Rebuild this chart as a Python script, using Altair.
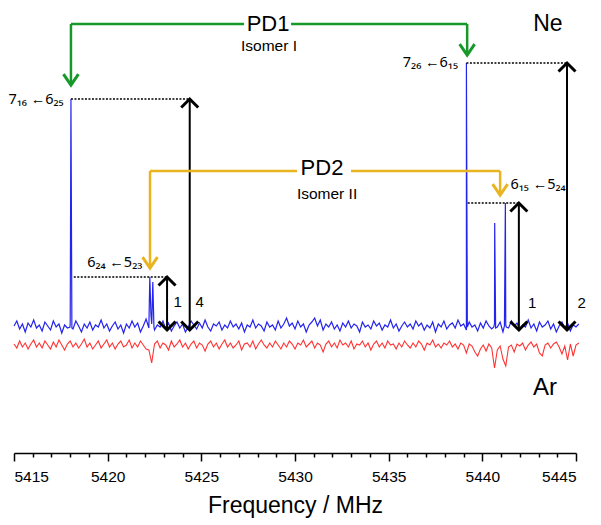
import altair as alt
import pandas as pd

# ---------------- data ----------------
freq_start = 5415.0
freq_step = 0.15

ne_noise = [
    0.4, 0.9, 0.1, 0.6, -0.2, 0.7, 0.3, 1.0, 0.2, 0.5,
    -0.1, 0.8, 0.4, 0.0, 0.9, 0.3, 0.6, -0.3, 0.5, 0.2,
    0.7, 0.1, 0.9, 0.4, -0.2, 0.6, 0.2, 0.8, 0.0, 0.5,
    0.3, 1.0, 0.2, 0.6, -0.1, 0.4, 0.8, 0.1, 0.5, -0.3,
    0.6, 0.2, 0.9, 0.3, 0.7, -0.2, 0.4, 1.1, 0.2, 0.6,
    0.0, 0.5, 0.3, 0.9, 0.1, 0.7, -0.1, 0.4, 0.8, 0.2,
    0.6, -0.2, 0.3, 0.9, 0.5, 0.1, 0.7, 0.2, 1.0, 0.3,
    -0.1, 0.6, 0.4, 0.8, 0.0, 0.5, 0.2, 0.9, 0.3, 0.6,
    0.1, 0.7, -0.2, 0.5, 0.3, 1.0, 0.2, 0.6, 0.4, -0.1,
    0.8, 0.3, 0.5, 0.0, 0.9, 0.2, 0.6, 1.2, 0.4, 0.7,
    0.1, 0.9, 0.3, 0.6, -0.2, 0.5, 0.8, 1.2, 0.4, 1.0,
    0.0, 0.6, 0.3, 0.8, 0.1, 0.5, -0.1, 0.7, 0.3, 0.9,
    0.2, 0.6, 0.4, -0.2, 0.8, 0.3, 0.5, 0.1, 0.9, 0.4,
    0.7, 0.0, 0.5, 0.3, 1.0, 0.2, 0.6, -0.1, 0.4, 0.8,
    0.3, 0.6, 0.1, 0.9, 0.4, 0.7, 0.0, 0.5, 0.2, 0.8,
    -0.2, 0.6, 0.3, 0.9, 0.1, 0.5, 0.7, 0.2, 1.0, 0.4,
    0.6, 0.0, 0.8, 0.3, 0.5, -0.1, 0.7, 0.2, 0.9, 0.4,
    0.1, 0.6, 0.3, 0.8, -0.2, 0.5, 0.2, 0.9, 0.4, 0.7,
    0.0, 0.5, 0.3, 1.0, 0.2, 0.6, -0.1, 0.8, 0.3, 0.5,
    0.9, 0.1, 0.6, -0.2, 0.4, 0.8, 0.2, 0.7, -0.1, 0.5,
    0.3, 0.6,
]

ar_noise = [
    -1.4, -1.8, -1.1, -1.7, -1.3, -1.9, -1.4, -1.0, -1.7, -1.3,
    -1.8, -1.1, -1.5, -1.9, -1.2, -1.7, -1.0, -1.5, -2.0, -1.4,
    -1.1, -1.7, -1.3, -1.8, -1.4, -0.9, -1.7, -1.3, -1.9, -1.5,
    -1.1, -1.8, -1.4, -1.0, -1.7, -1.3, -1.9, -1.4, -1.1, -1.7,
    -1.5, -1.0, -1.8, -1.3, -1.7, -1.1, -1.5, -1.9, -2.0, -3.3,
    -1.4, -1.1, -1.8, -1.3, -1.5, -2.0, -1.1, -1.7, -1.4, -1.0,
    -1.7, -1.3, -1.9, -1.4, -1.1, -1.8, -1.3, -1.5, -2.1, -1.4,
    -1.1, -1.7, -1.3, -1.9, -1.4, -1.0, -1.7, -1.3, -1.8, -1.5,
    -1.1, -2.0, -1.4, -1.3, -1.7, -1.1, -1.9, -1.4, -1.0, -1.5,
    -1.8, -1.3, -1.7, -1.1, -1.5, -1.9, -1.3, -1.7, -1.1, -1.4,
    -1.9, -1.3, -1.5, -1.0, -1.7, -1.4, -1.1, -1.8, -1.3, -1.5,
    -2.2, -1.4, -1.1, -1.7, -1.3, -1.8, -1.0, -1.5, -1.3, -1.7,
    -1.1, -1.9, -1.4, -1.5, -1.1, -1.7, -1.3, -2.0, -1.4, -1.1,
    -1.7, -1.3, -1.8, -1.1, -1.5, -1.4, -1.9, -1.3, -1.7, -1.1,
    -1.5, -1.8, -1.3, -1.7, -1.1, -1.4, -2.0, -1.3, -1.5, -1.0,
    -1.7, -1.4, -1.8, -1.3, -1.5, -1.1, -1.7, -1.4, -1.9, -1.3,
    -1.5, -2.3, -1.4, -1.6, -2.2, -2.6, -1.9, -1.5, -2.1, -1.4,
    -1.8, -3.8, -2.0, -1.6, -2.9, -3.6, -1.7, -1.5, -2.2, -1.4,
    -1.6, -1.3, -2.0, -1.5, -1.2, -1.7, -1.4, -2.3, -2.6, -1.5,
    -1.3, -1.8, -1.4, -1.2, -1.7, -2.4, -1.6, -3.0, -1.4, -2.6,
    -1.5, -1.3,
]

# Ne spectral lines (frequency MHz, intensity)
ne_peak_freq = [5417.99, 5418.04, 5418.09,
                5422.20, 5422.25, 5422.31, 5422.36, 5422.41, 5422.47,
                5439.10, 5439.15, 5439.20,
                5440.61, 5440.66, 5440.71,
                5441.18, 5441.23, 5441.28]
ne_peak_int = [0.3, 23.1, 0.2,
               0.4, 5.3, 1.5, 1.0, 4.8, 0.3,
               0.2, 26.7, 0.3,
               0.3, 10.7, 0.2,
               0.4, 12.7, 0.3]

# black double arrows (intensity ratio markers)
arrow_freq = [5423.17, 5424.38, 5441.95, 5444.52]
arrow_top = [5.3, 23.1, 12.7, 26.7]
arrow_bottom = [0.0, 0.0, 0.0, 0.0]
ratio_text = ["1", "4", "1", "2"]
ratio_freq = [5423.74, 5424.91, 5442.66, 5445.3]
ratio_int = [2.8, 2.8, 2.7, 2.7]

# dotted guides from peak tops to arrows
dot_f1 = [5418.04, 5418.19, 5439.15, 5439.22]
dot_f2 = [5424.38, 5423.17, 5444.52, 5441.95]
dot_i = [23.1, 5.3, 26.7, 12.7]

# PD1 (green) and PD2 (yellow) connectors
pd1_f1 = [5418.04, 5418.04, 5429.79, 5439.19]
pd1_f2 = [5418.04, 5427.28, 5439.19, 5439.19]
pd1_i1 = [30.6, 30.6, 30.6, 30.6]
pd1_i2 = [24.5, 30.6, 30.6, 27.5]
pd2_f1 = [5422.26, 5422.26, 5432.99, 5440.95]
pd2_f2 = [5422.26, 5430.11, 5440.95, 5440.95]
pd2_i1 = [15.9, 15.9, 15.9, 15.9]
pd2_i2 = [6.2, 15.9, 15.9, 13.5]
pd1_tip_f = [5418.04, 5439.19]
pd1_tip_i = [24.5, 27.5]
pd2_tip_f = [5422.26, 5440.95]
pd2_tip_i = [6.2, 13.5]

# texts
center_text = ["PD1", "Isomer I", "PD2", "Isomer II", "Ne", "Ar"]
center_freq = [5428.56, 5428.61, 5431.44, 5431.71, 5443.5, 5443.35]
center_int = [30.6, 28.4, 16.2, 13.6, 30.6, -5.8]
center_size = [22, 15.5, 22, 15.5, 23, 24]

trans_right_text = ["7\u2081\u2086 \u21906\u2082\u2085", "6\u2082\u2084 \u21905\u2082\u2083", "7\u2082\u2086 \u21906\u2081\u2085"]
trans_right_freq = [5417.65, 5421.85, 5438.70]
trans_right_int = [23.0, 6.7, 26.7]
trans_left_text = ["6\u2081\u2085 \u21905\u2082\u2084"]
trans_left_freq = [5441.5]
trans_left_int = [14.5]

# ---------------- tables ----------------
grid = [round(freq_start + freq_step * i, 3) for i in range(len(ne_noise))]
ne_df = pd.DataFrame({"f": grid + ne_peak_freq, "I": ne_noise + ne_peak_int}).sort_values("f")
ar_df = pd.DataFrame({"f": grid, "I": ar_noise})

arrow_df = pd.DataFrame({"f": arrow_freq, "f2": arrow_freq, "I": arrow_top, "I2": arrow_bottom})
up_df = pd.DataFrame({"f": arrow_freq, "I": arrow_top})
down_df = pd.DataFrame({"f": arrow_freq, "I": arrow_bottom})
ratio_df = pd.DataFrame({"f": ratio_freq, "I": ratio_int, "t": ratio_text})
dot_df = pd.DataFrame({"f": dot_f1, "f2": dot_f2, "I": dot_i, "I2": dot_i})
pd1_df = pd.DataFrame({"f": pd1_f1, "f2": pd1_f2, "I": pd1_i1, "I2": pd1_i2})
pd2_df = pd.DataFrame({"f": pd2_f1, "f2": pd2_f2, "I": pd2_i1, "I2": pd2_i2})
pd1_tip = pd.DataFrame({"f": pd1_tip_f, "I": pd1_tip_i})
pd2_tip = pd.DataFrame({"f": pd2_tip_f, "I": pd2_tip_i})
center_df = pd.DataFrame({"f": center_freq, "I": center_int, "t": center_text, "fs": center_size})
tr_df = pd.DataFrame({"f": trans_right_freq, "I": trans_right_int, "t": trans_right_text})
tl_df = pd.DataFrame({"f": trans_left_freq, "I": trans_left_int, "t": trans_left_text})

# ---------------- encodings ----------------
xs = alt.Scale(domain=[5415, 5445], nice=False, zero=False)
ys = alt.Scale(domain=[-12.3, 32.2], nice=False, zero=False)
x_axis = alt.Axis(
    values=list(range(5415, 5446)),
    format="d",
    labelExpr="datum.value % 5 == 0 ? datum.label : ''",
    labelOverlap=False,
    tickSize={"condition": {"test": "datum.value % 5 == 0", "value": 8}, "value": 4},
    tickColor="black", tickWidth=1.5,
    domainColor="black", domainWidth=1.5,
    labelFont="Liberation Sans", labelFontSize=15.5, labelColor="black", labelPadding=8,
    title="Frequency / MHz", titleFont="Liberation Sans", titleFontSize=23,
    titleFontWeight="normal", titleColor="black", titlePadding=10,
    grid=False,
)
X = alt.X("f:Q", scale=xs, axis=x_axis)
Y = alt.Y("I:Q", scale=ys, axis=None)
X2 = alt.X2("f2")
Y2 = alt.Y2("I2")

UP = "M-1,1L0,0L1,1"
DOWN = "M-1,-1L0,0L1,-1"
VDOWN = "M-1,-1.45L0,0L1,-1.45"
GREEN = "#17992a"
YELLOW = "#e8b520"
TFONT = "Noto Sans"
TSIZE = 14.5

layers = [
    alt.Chart(ar_df).mark_line(color="#ff3333", strokeWidth=1.1).encode(x=X, y=Y),
    alt.Chart(ne_df).mark_line(color="#2424ee", strokeWidth=1.2).encode(x=X, y=Y, order="f:Q"),
    alt.Chart(dot_df).mark_rule(color="black", strokeWidth=1.5, strokeDash=[2, 1.5]).encode(x=X, x2=X2, y=Y, y2=Y2),
    alt.Chart(arrow_df).mark_rule(color="black", strokeWidth=2).encode(x=X, x2=X2, y=Y, y2=Y2),
    alt.Chart(up_df).mark_point(shape=UP, filled=False, color="black", strokeWidth=3, size=289, opacity=1).encode(x=X, y=Y),
    alt.Chart(down_df).mark_point(shape=DOWN, filled=False, color="black", strokeWidth=3, size=289, opacity=1).encode(x=X, y=Y),
    alt.Chart(pd1_df).mark_rule(color=GREEN, strokeWidth=2.5).encode(x=X, x2=X2, y=Y, y2=Y2),
    alt.Chart(pd2_df).mark_rule(color=YELLOW, strokeWidth=2.5).encode(x=X, x2=X2, y=Y, y2=Y2),
    alt.Chart(pd1_tip).mark_point(shape=VDOWN, filled=False, color=GREEN, strokeWidth=3, size=225, opacity=1).encode(x=X, y=Y),
    alt.Chart(pd2_tip).mark_point(shape=VDOWN, filled=False, color=YELLOW, strokeWidth=3, size=225, opacity=1).encode(x=X, y=Y),
    alt.Chart(ratio_df).mark_text(font="Liberation Sans", fontSize=15, color="black", baseline="middle").encode(x=X, y=Y, text="t:N"),
    alt.Chart(center_df).mark_text(font="Liberation Sans", color="black", baseline="middle").encode(
        x=X, y=Y, text="t:N", size=alt.Size("fs:Q", scale=None, legend=None)),
    alt.Chart(tr_df).mark_text(font=TFONT, fontSize=TSIZE, color="black", align="right", baseline="middle").encode(x=X, y=Y, text="t:N"),
    alt.Chart(tl_df).mark_text(font=TFONT, fontSize=TSIZE, color="black", align="left", baseline="middle").encode(x=X, y=Y, text="t:N"),
]

chart = alt.layer(*layers).properties(width=562, height=445, padding=0).configure_view(stroke=None)

chart.save("out.html", embed_options={"renderer": "svg", "actions": False})
